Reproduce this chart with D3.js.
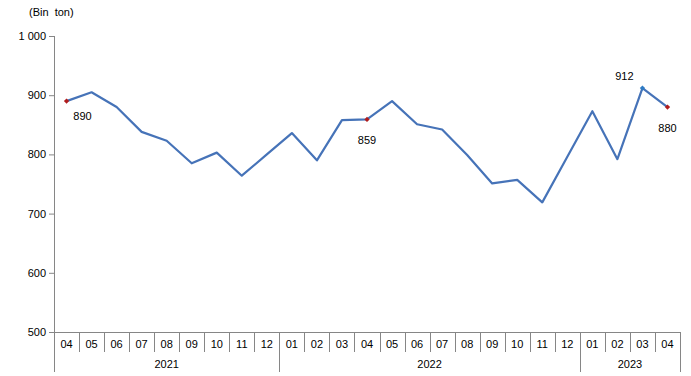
<!DOCTYPE html>
<html>
<head>
<meta charset="utf-8">
<script src="https://cdn.jsdelivr.net/npm/d3@7"></script>
<style>
  body { margin: 0; background: #fff; }
  svg { display: block; font-family: "Liberation Sans", Arial, sans-serif; }
</style>
</head>
<body>
<div class="chart"></div>
<script>
// monthly series, April 2021 - April 2023 (thousand tons)
var months = ['04','05','06','07','08','09','10','11','12',
              '01','02','03','04','05','06','07','08','09','10','11','12',
              '01','02','03','04'];
var years = ['2021', '2022', '2023'];
var yearSpans = [9, 12, 4]; // number of months under each year label
var values = [890, 905, 880, 838, 823, 785, 803, 764, 800,
              836, 790, 858, 859, 890, 851, 842, 799, 751, 757, 719, 796,
              873, 792, 912, 880];
var yTicks = [500, 600, 700, 800, 900, 1000];
var labelled = [0, 12, 23, 24]; // indices with a value label

var w = 691, h = 376;
// plot box (note: "top" is reserved on window, so use own names)
var pLeft = 54, pRight = 680, pTop = 36, pBottom = 332;

var svg = d3.select('.chart').append('svg')
	.attr('width', w)
	.attr('height', h);

var x = d3.scaleBand()
	.domain(d3.range(months.length))
	.range([pLeft, pRight]);

var y = d3.scaleLinear()
	.domain([500, 1000])
	.range([pBottom, pTop]);

var grey = '#868686';

// y axis
var yAxis = svg.append('g')
	.attr('transform', 'translate(' + pLeft + ',0)')
	.call(d3.axisLeft(y)
		.tickValues(yTicks)
		.tickSize(5)
		.tickFormat(function(d) { return d >= 1000 ? d3.format(',')(d).replace(',', ' ') : d; }));
yAxis.select('.domain').attr('stroke', grey).attr('d', 'M0.5,' + pTop + 'V' + pBottom);
yAxis.selectAll('.tick line').attr('stroke', grey);
yAxis.selectAll('.tick text')
	.attr('x', -8)
	.attr('fill', '#000')
	.style('font-size', '11px')
	.style('font-family', '"Liberation Sans", Arial, sans-serif');

svg.append('text')
	.attr('x', 29)
	.attr('y', 16)
	.attr('font-size', 11)
	.attr('xml:space', 'preserve')
	.style('white-space', 'pre')
	.text('(Bin  ton)');

// x axis: baseline, month cells, year cells
svg.append('line')
	.attr('x1', pLeft).attr('x2', pRight)
	.attr('y1', pBottom + 0.5).attr('y2', pBottom + 0.5)
	.attr('stroke', grey);

svg.selectAll('.msep')
	.data(d3.range(months.length + 1))
	.enter().append('line')
	.attr('class', 'msep')
	.attr('x1', function(d) { return Math.round(pLeft + d * x.step()) + 0.5; })
	.attr('x2', function(d) { return Math.round(pLeft + d * x.step()) + 0.5; })
	.attr('y1', pBottom)
	.attr('y2', pBottom + 20)
	.attr('stroke', grey);

var bounds = [0];
yearSpans.forEach(function(s, i) { bounds.push(bounds[i] + s); });

svg.selectAll('.ysep')
	.data(bounds)
	.enter().append('line')
	.attr('class', 'ysep')
	.attr('x1', function(d) { return Math.round(pLeft + d * x.step()) + 0.5; })
	.attr('x2', function(d) { return Math.round(pLeft + d * x.step()) + 0.5; })
	.attr('y1', pBottom + 20)
	.attr('y2', pBottom + 40)
	.attr('stroke', grey);

svg.selectAll('.mlab')
	.data(months)
	.enter().append('text')
	.attr('class', 'mlab')
	.attr('x', function(d, i) { return x(i) + x.bandwidth() / 2; })
	.attr('y', pBottom + 16)
	.attr('text-anchor', 'middle')
	.attr('font-size', 11)
	.text(function(d) { return d; });

svg.selectAll('.ylab')
	.data(years)
	.enter().append('text')
	.attr('class', 'ylab')
	.attr('x', function(d, i) { return pLeft + (bounds[i] + bounds[i + 1]) / 2 * x.step(); })
	.attr('y', pBottom + 36)
	.attr('text-anchor', 'middle')
	.attr('font-size', 11)
	.text(function(d) { return d; });

// line
var line = d3.line()
	.x(function(d, i) { return x(i) + x.bandwidth() / 2; })
	.y(function(d) { return y(d); });

svg.append('path')
	.datum(values)
	.attr('fill', 'none')
	.attr('stroke', '#4673B8')
	.attr('stroke-width', 2.2)
	.attr('stroke-linejoin', 'round')
	.attr('d', line);

// small diamond markers (rotated squares)
var square = d3.symbol().type(d3.symbolSquare).size(14);
svg.selectAll('.mark')
	.data(labelled)
	.enter().append('path')
	.attr('class', 'mark')
	.attr('d', square)
	.attr('transform', function(i) { return 'translate(' + (x(i) + x.bandwidth() / 2) + ',' + y(values[i]) + ') rotate(45)'; })
	.attr('fill', function(i) { return i == 23 ? '#2E7BC4' : '#B01C1C'; });

// value labels
var offsets = { 0: [16, 19], 12: [0, 25], 23: [-18, -8], 24: [0, 25] };
svg.selectAll('.vlab')
	.data(labelled)
	.enter().append('text')
	.attr('class', 'vlab')
	.attr('x', function(i) { return x(i) + x.bandwidth() / 2 + offsets[i][0]; })
	.attr('y', function(i) { return y(values[i]) + offsets[i][1]; })
	.attr('text-anchor', 'middle')
	.attr('font-size', 11)
	.text(function(i) { return values[i]; });
</script>
</body>
</html>
